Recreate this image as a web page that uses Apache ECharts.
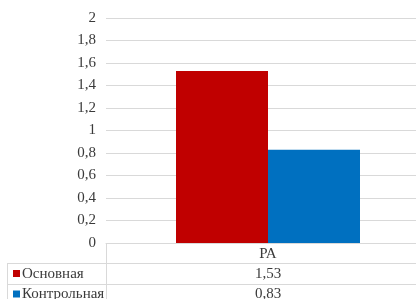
<!doctype html>
<html>
<head>
<meta charset="utf-8" />
<script src="https://cdn.jsdelivr.net/npm/echarts@6/dist/echarts.min.js"></script>
<style>
  html, body { margin: 0; background: #fff; overflow: hidden; }
  #chart { width: 430px; height: 299px; }
</style>
</head>
<body>
<div id="chart"></div>
<script>
const categories = ["РА"];
const seriesNames = ["Основная", "Контрольная"];
const mainValues = [1.53];
const controlValues = [0.83];
const colors = ["#C00000", "#0070C0"];

const font = "'Liberation Serif', 'Times New Roman', serif";
const gridColor = "#d9d9d9";
const textColor = "#3a3a3a";
const fmt = v => String(v).replace(".", ",");

// the chart is a bit wider than the window: its right edge is cut off, as in the original
const chart = echarts.init(document.getElementById("chart"), null, { renderer: "canvas" });

// data table under the plot (rows from the arrays above)
const rows = [mainValues, controlValues];
const graphic = [];
const line = (x1, y1, x2, y2) => graphic.push({
  type: "line", shape: { x1, y1, x2, y2 },
  style: { stroke: gridColor, lineWidth: 1 }
});
line(106.5, 243, 106.5, 299);
line(7.5, 263, 7.5, 299);
line(7, 263.5, 430, 263.5);
line(7, 284.5, 430, 284.5);
rows.forEach((vals, i) => {
  const cy = 274 + i * 20.5;
  graphic.push({ type: "rect", shape: { x: 13, y: cy - 4, width: 7, height: 7 }, style: { fill: colors[i] } });
  graphic.push({
    type: "text", x: 22, y: cy,
    style: { text: seriesNames[i], font: "15px " + font, fill: textColor, verticalAlign: "middle" }
  });
  graphic.push({
    type: "text", x: 268, y: cy,
    style: { text: fmt(vals[0]), font: "15px " + font, fill: textColor, align: "center", verticalAlign: "middle" }
  });
});

chart.setOption({
  animation: false,
  backgroundColor: "#ffffff",
  grid: { left: 106, right: 0, top: 18, height: 225 },
  xAxis: {
    type: "category",
    data: categories,
    axisLine: { lineStyle: { color: gridColor } },
    axisTick: { show: false },
    axisLabel: { fontFamily: font, fontSize: 15, color: textColor, margin: 4 }
  },
  yAxis: {
    type: "value",
    min: 0, max: 2, interval: 0.2,
    axisLine: { show: false },
    axisTick: { show: false },
    splitLine: { lineStyle: { color: gridColor } },
    axisLabel: { fontFamily: font, fontSize: 15, color: textColor, margin: 10, formatter: v => fmt(+v.toFixed(1)) }
  },
  graphic,
  series: [
    { name: seriesNames[0], type: "bar", data: mainValues, barWidth: 92, barGap: "0%", itemStyle: { color: colors[0] } },
    { name: seriesNames[1], type: "bar", data: controlValues, barWidth: 92, barGap: "0%", itemStyle: { color: colors[1] } }
  ]
});
</script>
</body>
</html>
